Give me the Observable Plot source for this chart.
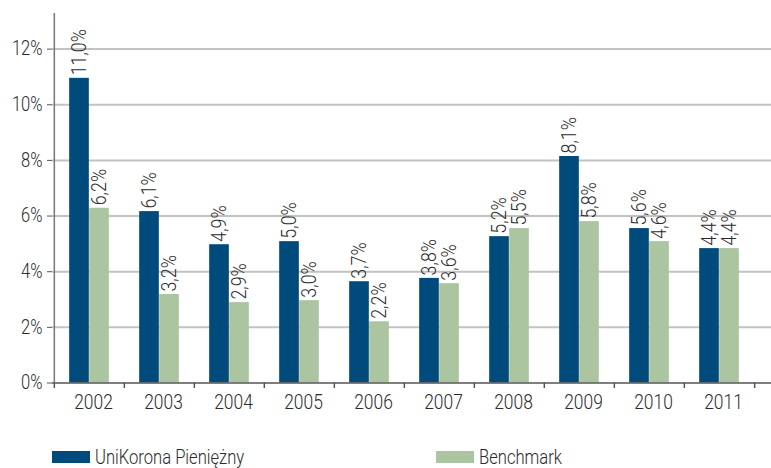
<!DOCTYPE html>
<html>
<head>
<meta charset="utf-8">
<script src="https://cdn.jsdelivr.net/npm/d3@7"></script>
<script src="https://cdn.jsdelivr.net/npm/@observablehq/plot@0.6"></script>
<style>
  body { margin: 0; background: #fff; }
  #wrap { position: relative; width: 771px; height: 468px; overflow: hidden; font-family: Roboto, "Open Sans", sans-serif; font-weight: 300; color: #2b2b2b; }
  #legend { position: absolute; left: 0; top: 447px; width: 771px; height: 20px; font-size: 20px; line-height: 20px; }
  .item { position: absolute; top: 0; height: 20px; display: flex; align-items: center; white-space: nowrap; }
  .sw { width: 38px; height: 12px; margin-right: 5px; flex: none; }
  .lt { display: inline-block; transform: scaleX(0.83); transform-origin: left center; }
</style>
</head>
<body>
<div id="wrap">
  <div id="chart"></div>
  <div id="legend"></div>
</div>
<script>
const years = ["2002","2003","2004","2005","2006","2007","2008","2009","2010","2011"];
const seriesNames = ["UniKorona Pieniężny", "Benchmark"];
// bar heights as drawn (%)
const fundValues = [10.95, 6.16, 4.97, 5.08, 3.64, 3.76, 5.26, 8.14, 5.55, 4.83];
const benchValues = [6.28, 3.18, 2.89, 2.96, 2.20, 3.57, 5.55, 5.80, 5.08, 4.83];
// printed labels
const fundLabels = ["11,0%","6,1%","4,9%","5,0%","3,7%","3,8%","5,2%","8,1%","5,6%","4,4%"];
const benchLabels = ["6,2%","3,2%","2,9%","3,0%","2,2%","3,6%","5,5%","5,8%","4,6%","4,4%"];
const yTicks = [0, 2, 4, 6, 8, 10, 12];
const colors = ["#004a7c", "#abc5a1"];

const fund = years.map((y, i) => ({year: y, value: fundValues[i], label: fundLabels[i]}));
const bench = years.map((y, i) => ({year: y, value: benchValues[i], label: benchLabels[i]}));

const x0 = 52, x1 = 755.5;
const bw = (x1 - x0) / years.length;
const half = bw / 2;
const textColor = "#2b2b2b";

const chart = Plot.plot({
  width: 771,
  height: 430,
  marginLeft: 52,
  marginRight: 0,
  marginTop: 13,
  marginBottom: 47.5,
  style: {fontFamily: "Roboto, 'Open Sans', sans-serif", fontWeight: 300, color: textColor, background: "#fff"},
  x: {domain: years, range: [x0, x1], padding: 0, label: null},
  y: {domain: [0, 13.28], label: null},
  marks: [
    Plot.ruleY(yTicks.filter(d => d > 0), {stroke: "#c2c2c2", strokeWidth: 2}),
    Plot.barY(fund, {x: "year", y: "value", fill: colors[0], insetLeft: half - 20, insetRight: half}),
    Plot.barY(bench, {x: "year", y: "value", fill: colors[1], insetLeft: half, insetRight: half - 20}),
    Plot.text(fund, {x: "year", y: "value", text: "label", rotate: -90, textAnchor: "start", lineAnchor: "middle", dx: -10, dy: -3, fontSize: 21, fill: textColor}),
    Plot.text(bench, {x: "year", y: "value", text: "label", rotate: -90, textAnchor: "start", lineAnchor: "middle", dx: 10, dy: -3, fontSize: 21, fill: textColor}),
    Plot.ruleY([0], {stroke: "#555", strokeWidth: 1.5}),
    // y axis line at left edge of first band
    Plot.ruleX([years[0]], {x: d => d, dx: -half, y1: 0, y2: 13.28, stroke: "#777", strokeWidth: 1.5}),
    // x ticks at band boundaries
    Plot.ruleX(years, {x: d => d, dx: -half, y1: 0, y2: -0.2, stroke: "#555", strokeWidth: 1.5}),
    Plot.ruleX([years[years.length - 1]], {x: d => d, dx: half, y1: 0, y2: -0.2, stroke: "#555", strokeWidth: 1.5}),
    Plot.axisY({ticks: yTicks, tickFormat: d => d + "%", tickSize: 5, tickPadding: 5, fontSize: 19.5, stroke: "#555", label: null}),
    Plot.axisX({tickSize: 0, tickPadding: 11, fontSize: 20.5, dx: 4, label: null})
  ]
});
document.getElementById("chart").appendChild(chart);

// narrow the glyphs horizontally (condensed look of the original face)
const sx = 0.85;
chart.querySelectorAll("text").forEach(t => {
  const tr = t.getAttribute("transform");
  if (tr) {
    t.setAttribute("transform", tr + ` scale(${sx},1)`);
  } else {
    const x = +(t.getAttribute("x") || 0), y = +(t.getAttribute("y") || 0);
    t.setAttribute("transform", `translate(${x},${y}) scale(${sx},1) translate(${-x},${-y})`);
  }
});

const legend = document.getElementById("legend");
const lefts = [52, 436];
seriesNames.forEach((name, i) => {
  const it = document.createElement("div");
  it.className = "item";
  it.style.left = lefts[i] + "px";
  const sw = document.createElement("div");
  sw.className = "sw";
  sw.style.background = colors[i];
  const t = document.createElement("span");
  t.className = "lt";
  t.textContent = name;
  it.appendChild(sw);
  it.appendChild(t);
  legend.appendChild(it);
});
</script>
</body>
</html>
